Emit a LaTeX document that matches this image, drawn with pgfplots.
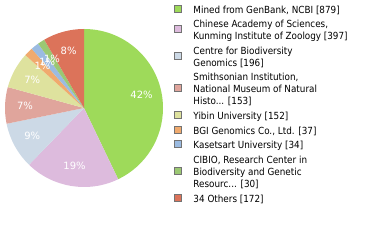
\documentclass[border=0pt]{standalone}
\usepackage{pgfplots}
\pgfplotsset{compat=1.18}
\usepackage{pgfplotstable}
\usepackage{fontspec}
\setmainfont{DejaVu Sans Condensed}
\newfontfamily\pctfont{DejaVu Sans}
\definecolor{pc0}{HTML}{9EDA5A}
\definecolor{pc1}{HTML}{DDBBDD}
\definecolor{pc2}{HTML}{CCD9E6}
\definecolor{pc3}{HTML}{E0A59C}
\definecolor{pc4}{HTML}{DEE29E}
\definecolor{pc5}{HTML}{F0AA6E}
\definecolor{pc6}{HTML}{9BBBE1}
\definecolor{pc7}{HTML}{9BC873}
\definecolor{pc8}{HTML}{DC735A}
\pgfplotstableread{
value pct
879 42
397 19
196 9
153 7
152 7
37 1
34 1
30 1
172 8
}\piedata
\newcommand\LE[1]{\parbox{182bp}{\strut#1\strut}}
\pgfplotsset{pielegend/.style={legend image code/.code={%
  \draw[black!55, line width=1bp, fill=#1] (0bp,-1.25bp) rectangle (7bp,5.75bp);
  \path[draw=none, fill=none] (0bp,2.25bp) -- (19bp,2.25bp);}}}
\begin{document}
\begin{tikzpicture}
\path[use as bounding box] (0,0) rectangle (380bp,240bp);
\def\pieTotal{0}
\pgfplotsforeachungrouped \i in {0,...,8}{%
  \pgfplotstablegetelem{\i}{value}\of\piedata
  \pgfmathsetmacro\pieTotal{\pieTotal+\pgfplotsretval}%
  \xdef\pieTotal{\pieTotal}%
}
\def\pieCum{0}
\pgfplotsforeachungrouped \i in {0,...,8}{%
  \pgfplotstablegetelem{\i}{value}\of\piedata
  \let\pieV\pgfplotsretval
  \pgfmathsetmacro\pS{90-\pieCum/\pieTotal*360}%
  \pgfmathsetmacro\pE{90-(\pieCum+\pieV)/\pieTotal*360}%
  \pgfmathsetmacro\pM{(\pS+\pE)/2}%
  \expandafter\xdef\csname pieS\i\endcsname{\pS}%
  \expandafter\xdef\csname pieE\i\endcsname{\pE}%
  \expandafter\xdef\csname pieM\i\endcsname{\pM}%
  \pgfplotstablegetelem{\i}{pct}\of\piedata
  \expandafter\xdef\csname pieL\i\endcsname{\pgfplotsretval}%
  \pgfmathsetmacro\pieCum{\pieCum+\pieV}%
  \xdef\pieCum{\pieCum}%
}
\begin{axis}[at={(0,0)}, anchor=south west, x=1bp, y=1bp,
  xmin=0, xmax=380, ymin=0, ymax=240, hide axis, clip=false,
  legend style={at={(174/380,235.5/240)}, anchor=north west, draw=none, fill=none,
    inner sep=0pt, outer sep=0pt, row sep=2.5bp, column sep=0pt,
    font=\fontsize{9.8bp}{12bp}\selectfont, nodes={inner sep=0pt, text depth=, text height=}},
  legend cell align=left,
]
\pgfplotsinvokeforeach{0,...,8}{%
  \fill[pc#1] (axis cs:84,132) -- ++(\csname pieS#1\endcsname:79bp)
    arc[start angle=\csname pieS#1\endcsname, end angle=\csname pieE#1\endcsname, radius=79bp] -- cycle;
}
\pgfplotsinvokeforeach{0,...,8}{%
  \path (axis cs:84,132) ++(\csname pieM#1\endcsname:59bp)
    node[text=white, font=\pctfont\fontsize{10bp}{12bp}\selectfont, inner sep=0pt] {\csname pieL#1\endcsname\%};
}
\addlegendimage{pielegend=pc0}\addlegendentry{\LE{Mined from GenBank, NCBI [879]}}
\addlegendimage{pielegend=pc1}\addlegendentry{\LE{Chinese Academy of Sciences,\\Kunming Institute of Zoology [397]}}
\addlegendimage{pielegend=pc2}\addlegendentry{\LE{Centre for Biodiversity\\Genomics [196]}}
\addlegendimage{pielegend=pc3}\addlegendentry{\LE{Smithsonian Institution,\\National Museum of Natural\\Histo... [153]}}
\addlegendimage{pielegend=pc4}\addlegendentry{\LE{Yibin University [152]}}
\addlegendimage{pielegend=pc5}\addlegendentry{\LE{BGI Genomics Co., Ltd. [37]}}
\addlegendimage{pielegend=pc6}\addlegendentry{\LE{Kasetsart University [34]}}
\addlegendimage{pielegend=pc7}\addlegendentry{\LE{CIBIO, Research Center in\\Biodiversity and Genetic\\Resourc... [30]}}
\addlegendimage{pielegend=pc8}\addlegendentry{\LE{34 Others [172]}}
\end{axis}
\end{tikzpicture}
\end{document}
